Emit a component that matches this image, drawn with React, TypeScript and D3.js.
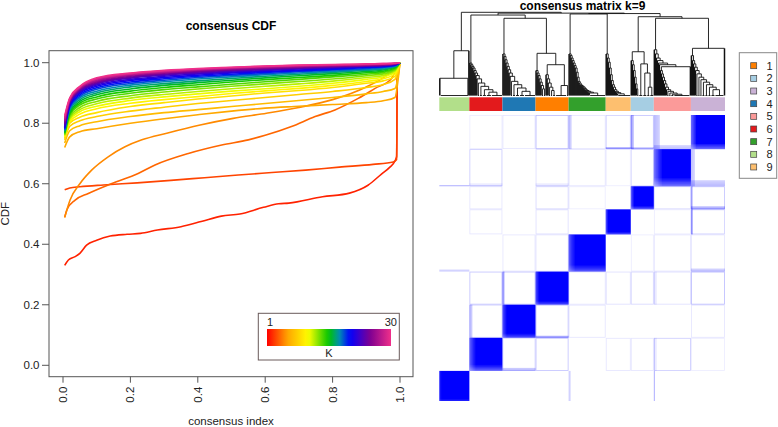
import React from 'react';
import * as d3 from 'd3';

// ---------------- CDF data ----------------
const kValues = [2,3,4,5,6,7,8,9,10,11,12,13,14,15,16,17,18,19,20,21,22,23,24,25,26,27,28,29,30];
const legendKs = [1,2,3,4,5,6,7,8,9,10,11,12,13,14,15,16,17,18,19,20,21,22,23,24,25,26,27,28,29,30];
const axisTicks = [0, 0.2, 0.4, 0.6, 0.8, 1.0];
const axisTickLabels = ['0.0', '0.2', '0.4', '0.6', '0.8', '1.0'];

const cdfK2: [number, number][] = [[0.005,0.33],[0.016,0.348],[0.036,0.359],[0.05,0.37],[0.07,0.397],[0.1,0.413],[0.14,0.427],[0.19,0.433],[0.23,0.436],[0.28,0.447],[0.35,0.458],[0.41,0.475],[0.47,0.493],[0.525,0.5],[0.595,0.522],[0.64,0.534],[0.67,0.536],[0.77,0.557],[0.85,0.569],[0.905,0.595],[0.945,0.632],[0.97,0.655],[0.985,0.675],[0.99,0.69],[0.992,1.0],[1.0,1.0]];
const cdfK3: [number, number][] = [[0.005,0.58],[0.02,0.586],[0.05,0.59],[0.12,0.596],[0.22,0.603],[0.32,0.611],[0.42,0.62],[0.52,0.629],[0.62,0.637],[0.72,0.645],[0.82,0.655],[0.92,0.664],[0.98,0.672],[0.99,0.68],[0.992,1.0],[1.0,1.0]];
const cdfK4: [number, number][] = [[0.005,0.49],[0.012,0.515],[0.036,0.546],[0.075,0.568],[0.145,0.601],[0.223,0.634],[0.273,0.662],[0.372,0.7],[0.471,0.728],[0.55,0.745],[0.6,0.76],[0.678,0.789],[0.748,0.822],[0.807,0.844],[0.876,0.882],[0.926,0.915],[0.975,0.948],[0.99,0.981],[1.0,1.0]];
const cdfK5: [number, number][] = [[0.005,0.488],[0.021,0.546],[0.05,0.6],[0.085,0.645],[0.134,0.689],[0.184,0.722],[0.234,0.745],[0.308,0.767],[0.407,0.794],[0.505,0.816],[0.604,0.833],[0.7,0.852],[0.8,0.878],[0.9,0.92],[0.95,0.95],[0.985,0.98],[1.0,1.0]];

const cdfGrid = [0.005,0.02,0.05,0.1,0.2,0.3,0.4,0.5,0.6,0.7,0.8,0.9,0.95,0.985,0.995,1.0];
// K = 6 .. 30, values on cdfGrid
const cdfBundle = [
  [0.72,0.755,0.772,0.782,0.8,0.815,0.828,0.84,0.85,0.856,0.862,0.868,0.874,0.885,0.95,1.0],
  [0.735,0.775,0.792,0.805,0.822,0.835,0.845,0.855,0.865,0.875,0.885,0.897,0.905,0.915,0.96,1.0],
  [0.745,0.79,0.808,0.822,0.84,0.853,0.865,0.875,0.885,0.895,0.905,0.918,0.928,0.945,0.975,1.0],
  [0.75,0.8,0.82,0.835,0.855,0.868,0.88,0.89,0.9,0.908,0.918,0.932,0.94,0.955,0.98,1.0],
  [0.755,0.805,0.83,0.848,0.866,0.878,0.888,0.898,0.907,0.915,0.925,0.938,0.947,0.962,0.985,1.0],
  [0.758,0.81,0.838,0.856,0.875,0.887,0.897,0.906,0.914,0.922,0.932,0.945,0.953,0.968,0.988,1.0],
  [0.76,0.815,0.845,0.864,0.883,0.895,0.905,0.914,0.922,0.93,0.939,0.951,0.958,0.972,0.99,1.0],
  [0.762,0.82,0.852,0.872,0.891,0.903,0.913,0.922,0.93,0.938,0.946,0.957,0.963,0.976,0.991,1.0],
  [0.765,0.826,0.86,0.88,0.899,0.911,0.92,0.929,0.937,0.945,0.953,0.962,0.968,0.979,0.992,1.0],
  [0.768,0.832,0.866,0.887,0.906,0.918,0.927,0.936,0.944,0.951,0.958,0.967,0.972,0.982,0.993,1.0],
  [0.77,0.837,0.872,0.894,0.913,0.925,0.934,0.942,0.95,0.957,0.964,0.971,0.976,0.985,0.994,1.0],
  [0.773,0.842,0.878,0.9,0.92,0.931,0.94,0.948,0.955,0.962,0.968,0.975,0.979,0.987,0.995,1.0],
  [0.776,0.847,0.884,0.906,0.926,0.937,0.946,0.953,0.96,0.966,0.972,0.978,0.982,0.989,0.996,1.0],
  [0.779,0.852,0.889,0.912,0.931,0.942,0.951,0.958,0.964,0.97,0.976,0.981,0.985,0.99,0.996,1.0],
  [0.782,0.856,0.894,0.917,0.936,0.947,0.955,0.962,0.968,0.973,0.978,0.984,0.987,0.992,0.997,1.0],
  [0.785,0.86,0.899,0.922,0.941,0.951,0.959,0.966,0.971,0.976,0.981,0.986,0.989,0.993,0.997,1.0],
  [0.789,0.864,0.903,0.926,0.945,0.955,0.963,0.969,0.974,0.979,0.983,0.988,0.99,0.994,0.998,1.0],
  [0.793,0.867,0.906,0.93,0.949,0.959,0.966,0.972,0.977,0.981,0.985,0.989,0.991,0.995,0.998,1.0],
  [0.797,0.87,0.909,0.933,0.952,0.962,0.969,0.975,0.979,0.983,0.987,0.99,0.992,0.996,0.998,1.0],
  [0.801,0.873,0.912,0.936,0.955,0.965,0.972,0.977,0.981,0.985,0.988,0.991,0.993,0.996,0.999,1.0],
  [0.805,0.875,0.914,0.939,0.958,0.967,0.974,0.979,0.983,0.987,0.99,0.992,0.994,0.997,0.999,1.0],
  [0.809,0.877,0.916,0.942,0.96,0.969,0.976,0.981,0.985,0.988,0.991,0.993,0.995,0.997,0.999,1.0],
  [0.814,0.879,0.918,0.945,0.962,0.971,0.978,0.983,0.987,0.99,0.992,0.994,0.996,0.998,0.999,1.0],
  [0.819,0.881,0.92,0.947,0.964,0.973,0.979,0.984,0.988,0.991,0.993,0.995,0.997,0.998,0.999,1.0],
  [0.825,0.884,0.922,0.95,0.966,0.975,0.981,0.985,0.989,0.992,0.994,0.996,0.997,0.998,1.0,1.0],
];
const kPaletteStops = [0, 1/6, 2/6, 0.5, 0.583, 4/6, 5/6, 1];
const kPaletteColors = ['#FF0000','#FFA500','#FFFF00','#00C400','#0090B0','#0000FF','#800090','#F0308A'];

// ---------------- consensus matrix data ----------------
const clusterOrder = [8, 6, 4, 1, 7, 9, 2, 5, 3];
const clusterSizes = [30, 33, 33, 33, 37, 25, 23, 37, 34];
const clusterIds = [1,2,3,4,5,6,7,8,9];
const clusterColors = ['#FF7F00','#A6CEE3','#CAB2D6','#1F78B4','#FB9A99','#E31A1C','#33A02C','#B2DF8A','#FDBF6F'];
// lower intra-cluster consensus of the first samples of each cluster (by cluster id 1..9)
const fringeWeights: number[][] = [
  [0.6,0.75,0.85],
  [0.5,0.7,0.85],
  [0.45,0.55,0.65,0.75,0.85],
  [0.55,0.7,0.8,0.9],
  [0.35,0.45,0.55,0.6,0.7,0.78,0.85,0.9],
  [0.45,0.55,0.65,0.75,0.85,0.9],
  [0.5,0.6,0.7,0.78,0.85,0.9],
  [0.85,0.92],
  [0.6,0.8],
];
// faint co-clustering between cluster pairs [a, b, strength]
const pairLinks = [
  [3,1,0.5],[3,7,0.2],[3,9,0.35],[3,2,0.45],[3,4,0.2],[3,6,0.15],
  [5,6,0.25],[5,1,0.25],[5,7,0.2],[5,2,0.3],[5,9,0.15],
  [2,1,0.3],[2,6,0.2],[2,7,0.15],
  [9,6,0.2],[9,1,0.25],
  [7,4,0.2],[7,1,0.2],
  [1,6,0.45],[1,4,0.45],
  [4,6,0.3],[6,5,0.15],
];
// first k samples of cluster c co-cluster with cluster t: [c, k, t, strength]
const crossStrips = [
  [5,6,3,0.35],[3,4,5,0.3],[3,2,9,0.45],[3,2,2,0.3],[7,3,3,0.3],[2,3,3,0.45],
  [4,2,1,0.5],[6,3,4,0.35],[5,1,8,0.4],[7,2,8,0.25],[5,3,6,0.12],[5,3,1,0.12],
];

// dendrogram (heights relative to root = 1)
type DNode = { h: number; l: DNode; r: DNode } | { n: number; at: number };
const N = (h: number, l: DNode, r: DNode): DNode => ({ h, l, r });
const G = (n: number, at = 0.5): DNode => ({ n, at });
const chain = (steps: number[][], last: DNode | number): DNode => {
  let node: DNode = typeof last === 'number' ? G(last) : last;
  for (let i = steps.length - 1; i >= 0; i--) node = N(steps[i][1], G(steps[i][0]), node);
  return node;
};
const singles = (hs: number[]) => hs.map((h) => [1, h]);

const dendroC8 = N(0.538, N(0.207, G(1), G(28, 1)), G(1));
const dendroC6 = chain([[1,0.39],[1,0.37],[1,0.35],[1,0.33],[1,0.3],[1,0.27],[1,0.24],[1,0.2],[2,0.15],[3,0.11],[4,0.07],[5,0.04]], 11);
const dendroC4 = chain([[1,0.5],[1,0.47],[1,0.43],[1,0.39],[1,0.35],[1,0.31],[1,0.27],[1,0.23],[2,0.17],[3,0.13],[4,0.09],[5,0.05]], 11);
const dendroC1 = N(0.507,
  chain([[1,0.3],[1,0.27],[1,0.24],[1,0.2],[1,0.16],[1,0.12],[2,0.08]], 2),
  N(0.37, chain([[1,0.25],[1,0.2],[1,0.15],[2,0.1],[2,0.06]], 3), N(0.12, G(11), G(2))));
const dendroC7 = chain(singles([0.5,0.48,0.45,0.42,0.39,0.36,0.33,0.28,0.22,0.17,0.15,0.13,0.12,0.11,0.1,0.085,0.07,0.06,0.05,0.04,0.03]), 16);
const dendroC9 = chain(singles([0.5,0.45,0.4,0.33,0.25,0.18,0.13,0.1,0.07,0.05,0.035,0.02]), 13);
const dendroC2 = N(0.526,
  chain([[1,0.42],[1,0.37],[1,0.3],[1,0.22],[1,0.14],[1,0.08]], 2),
  N(0.38, G(4), N(0.27, G(4), N(0.1, G(3), G(4)))));
const dendroC5 = chain([[1,0.55],[1,0.5],[1,0.45],[1,0.42],[1,0.39],[1,0.37]],
  N(0.346, chain([[1,0.3],[1,0.26],[1,0.22],[1,0.18],[1,0.14],[1,0.1],[1,0.07],[2,0.05],[2,0.03],[3,0.015]], 16), G(1)));
const dendroC3 = N(0.567, chain([[1,0.48],[1,0.42],[1,0.38],[1,0.34],[1,0.3],[2,0.26],[2,0.22],[2,0.19],[3,0.16],[3,0.13],[3,0.1],[4,0.07]], 9), G(1));

const dendroRoot = N(1.0, dendroC8,
  N(0.99,
    N(0.967, dendroC6, N(0.928, dendroC4, dendroC1)),
    N(0.985, N(0.98, dendroC7, dendroC9), N(0.947, dendroC2, N(0.928, dendroC5, dendroC3)))));

const FONT = 'Liberation Sans, Arial, Helvetica, sans-serif';

export default function App() {
  // ----- CDF panel -----
  const x = d3.scaleLinear().domain([0, 1]).range([63, 400]);
  const y = d3.scaleLinear().domain([0, 1]).range([365.3, 62.7]);
  const kColorScale = d3.scaleLinear<string>().domain(kPaletteStops).range(kPaletteColors).interpolate(d3.interpolateRgb);
  const colorOfK = (k: number) => kColorScale((k - 1) / 29);
  const line = d3.line<[number, number]>().x((d) => x(d[0])).y((d) => y(d[1])).curve(d3.curveMonotoneX);
  const lowCurves: [number, number][][] = [cdfK2, cdfK3, cdfK4, cdfK5];
  const curves = kValues.map((k) => {
    const pts: [number, number][] = k <= 5
      ? lowCurves[k - 2]
      : cdfGrid.map((gx, j) => [gx, cdfBundle[k - 6][j]] as [number, number]);
    return { k, d: line(pts) || '' };
  });

  const box = { l: 49, r: 413, t: 50.7, b: 376.7 };
  const lg = { l: 258.3, r: 399.3, t: 313.3, b: 360, barL: 267, barR: 391, barT: 329, barB: 346 };

  // ----- consensus matrix -----
  const total = d3.sum(clusterSizes);
  const hx = d3.scaleLinear().domain([0, total]).range([439.3, 725]);
  const hy = d3.scaleLinear().domain([0, total]).range([401, 115]);
  const dh = d3.scaleLinear().domain([0, 1]).range([95.5, 12.3]);
  const starts: number[] = [];
  clusterSizes.reduce((acc, n, i) => { starts[i] = acc; return acc + n; }, 0);
  const posOf = (c: number) => clusterOrder.indexOf(c);
  const spanOf = (c: number) => { const i = posOf(c); return { s: starts[i], n: clusterSizes[i] }; };

  // dendrogram segments: [x1, h1, x2, h2, isLeafStem]
  const segs: number[][] = [];
  let counter = 0;
  const walk = (node: DNode): { x: number; h: number; leaf: boolean } => {
    if ('n' in node) {
      const i0 = counter; counter += node.n;
      const x0 = hx(i0 + 0.5), x1 = hx(i0 + node.n - 0.5);
      if (node.n > 1) segs.push([x0, 0, x1, 0, 0]);
      return { x: x0 + (x1 - x0) * node.at, h: 0, leaf: node.n === 1 };
    }
    const L = walk(node.l), R = walk(node.r);
    segs.push([L.x, L.h, L.x, node.h, L.leaf ? 1 : 0]);
    segs.push([R.x, R.h, R.x, node.h, R.leaf ? 1 : 0]);
    segs.push([L.x, node.h, R.x, node.h, 0]);
    return { x: (L.x + R.x) / 2, h: node.h, leaf: false };
  };
  walk(dendroRoot);

  const cellW = hx(1) - hx(0);
  const cellH = hy(0) - hy(1);
  const blockRect = (cc: number, rc: number) => {
    const a = spanOf(cc), b = spanOf(rc);
    return { x: hx(a.s), w: hx(a.s + a.n) - hx(a.s), y: hy(b.s + b.n), h: hy(b.s) - hy(b.s + b.n) };
  };

  const heatEls: React.ReactNode[] = [];
  pairLinks.forEach(([a, b, s], i) => {
    [[a, b], [b, a]].forEach(([cc, rc], j) => {
      const r = blockRect(cc, rc);
      heatEls.push(<rect key={`pl${i}_${j}`} x={r.x + 0.5} y={r.y + 0.5} width={r.w - 1} height={r.h - 1}
        fill="none" stroke="#0000FF" strokeOpacity={s * 0.55} strokeWidth={0.8} />);
    });
  });
  crossStrips.forEach(([c, k, t, s], i) => {
    const a = spanOf(c), tb = spanOf(t);
    for (let m = 0; m < k; m++) {
      const idx = a.s + m;
      const op = s * 0.8 * (1 - (m / (k + 1)) * 0.5);
      heatEls.push(<rect key={`cs${i}_${m}_c`} x={hx(idx)} width={cellW} y={hy(tb.s + tb.n)} height={hy(tb.s) - hy(tb.s + tb.n)}
        fill="#0000FF" fillOpacity={op} />);
      heatEls.push(<rect key={`cs${i}_${m}_r`} x={hx(tb.s)} width={hx(tb.s + tb.n) - hx(tb.s)} y={hy(idx + 1)} height={cellH}
        fill="#0000FF" fillOpacity={op} />);
    }
  });
  clusterOrder.forEach((c, i) => {
    const r = blockRect(c, c);
    heatEls.push(<rect key={`db${i}`} x={r.x} y={r.y} width={r.w} height={r.h} fill="#0000FF" />);
    const fw = fringeWeights[c - 1];
    fw.forEach((w, m) => {
      const idx = starts[i] + m;
      heatEls.push(<rect key={`fc${i}_${m}`} x={hx(idx)} width={cellW} y={r.y} height={r.h} fill="#FFFFFF" fillOpacity={(1 - w) * 0.75} />);
      heatEls.push(<rect key={`fr${i}_${m}`} x={r.x} width={r.w} y={hy(idx + 1)} height={cellH} fill="#FFFFFF" fillOpacity={(1 - w) * 0.75} />);
    });
  });

  const legendY0 = 65.7, legendStep = 12.66;

  return (
    <svg width={778} height={427} style={{ position: 'absolute', left: 0, top: 0, background: '#fff' }} fontFamily={FONT}>
      <rect x={0} y={0} width={778} height={427} fill="#fff" />
      <defs>
        <linearGradient id="kgrad" x1="0" x2="1" y1="0" y2="0">
          {legendKs.map((k) => (
            <stop key={k} offset={(k - 1) / 29} stopColor={colorOfK(k)} />
          ))}
        </linearGradient>
        <clipPath id="plotclip">
          <rect x={box.l} y={box.t} width={box.r - box.l} height={box.b - box.t} />
        </clipPath>
      </defs>

      {/* ===== CDF panel ===== */}
      <text x={231} y={29.5} textAnchor="middle" fontWeight="bold" fontSize={12}>consensus CDF</text>
      <g clipPath="url(#plotclip)">
        {curves.map((c) => (
          <path key={c.k} d={c.d} fill="none" stroke={colorOfK(c.k)} strokeWidth={1.6} />
        ))}
      </g>
      <rect x={box.l} y={box.t} width={box.r - box.l} height={box.b - box.t} fill="none" stroke="#555" strokeWidth={1} />
      {axisTicks.map((t, i) => (
        <g key={`yt${i}`}>
          <line x1={box.l - 7} x2={box.l} y1={y(t)} y2={y(t)} stroke="#555" />
          <text x={39.5} y={y(t)} dy="0.35em" textAnchor="end" fontSize={11.5} fill="#222">{axisTickLabels[i]}</text>
        </g>
      ))}
      {axisTicks.map((t, i) => (
        <g key={`xt${i}`}>
          <line x1={x(t)} x2={x(t)} y1={box.b} y2={box.b + 6} stroke="#555" />
          <text transform={`translate(${x(t)},${box.b + 10}) rotate(-90)`} dy="0.35em" textAnchor="end" fontSize={11.5} fill="#222">{axisTickLabels[i]}</text>
        </g>
      ))}
      <text x={231} y={425} textAnchor="middle" fontSize={11.5} fill="#222">consensus index</text>
      <text transform={`translate(9,${(box.t + box.b) / 2}) rotate(-90)`} textAnchor="middle" fontSize={11.5} fill="#222">CDF</text>

      {/* K legend */}
      <rect x={lg.l} y={lg.t} width={lg.r - lg.l} height={lg.b - lg.t} fill="#fff" stroke="#6a5a5a" strokeWidth={1} />
      <rect x={lg.barL} y={lg.barT} width={lg.barR - lg.barL} height={lg.barB - lg.barT} fill="url(#kgrad)" />
      <text x={lg.barL} y={326} fontSize={11} fill="#222">1</text>
      <text x={397} y={326} textAnchor="end" fontSize={11} fill="#222">30</text>
      <text x={(lg.barL + lg.barR) / 2} y={357} textAnchor="middle" fontSize={11} fill="#222">K</text>

      {/* ===== consensus matrix ===== */}
      <text x={582.5} y={10} textAnchor="middle" fontWeight="bold" fontSize={12}>consensus matrix k=9</text>
      <g stroke="#111">
        {segs.map((s, i) => (
          <line key={`dg${i}`} x1={s[0]} y1={dh(s[1])} x2={s[2]} y2={dh(s[3])} strokeWidth={s[4] ? 1.5 : 0.9} />
        ))}
      </g>
      {clusterOrder.map((c, i) => (
        <rect key={`cb${i}`} x={hx(starts[i])} y={97.3} width={hx(starts[i] + clusterSizes[i]) - hx(starts[i])} height={13.7} fill={clusterColors[c - 1]} />
      ))}
      <g>{heatEls}</g>

      {/* cluster legend */}
      <rect x={739.3} y={52.7} width={37.4} height={125.6} fill="#fff" stroke="#888" strokeWidth={1} />
      {clusterIds.map((c, i) => (
        <g key={`lg${c}`}>
          <rect x={750.7} y={legendY0 + i * legendStep - 3} width={6} height={6} fill={clusterColors[c - 1]} stroke="#444" strokeWidth={0.7} />
          <text x={766.5} y={legendY0 + i * legendStep} dy="0.36em" fontSize={11} fill="#222">{c}</text>
        </g>
      ))}
    </svg>
  );
}
